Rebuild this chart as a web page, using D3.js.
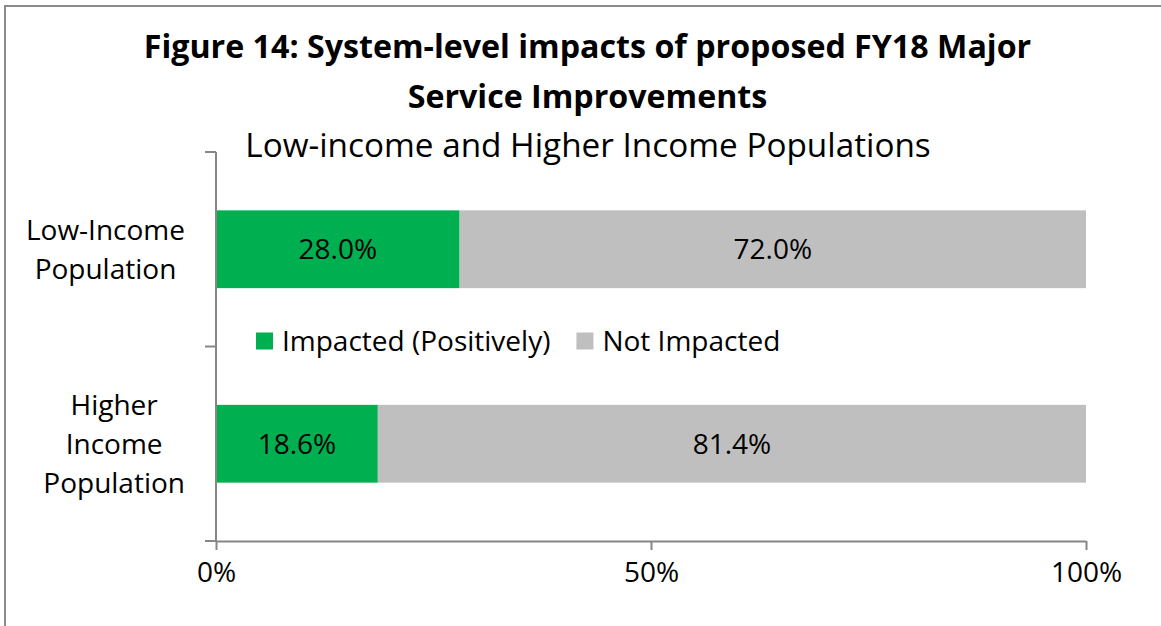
<!DOCTYPE html>
<html>
<head>
<meta charset="utf-8">
<script src="https://cdn.jsdelivr.net/npm/d3@7"></script>
<style>
  body { margin: 0; background: #fff; }
  svg { display: block; }
  text { font-family: "Open Sans", "Noto Sans", sans-serif; fill: #000; }
</style>
</head>
<body>
<svg id="chart" width="1161" height="626"></svg>
<script>
// Chart data
const categories = ["Low-Income Population", "Higher Income Population"];
const categoryLines = [["Low-Income", "Population"], ["Higher", "Income", "Population"]];
const seriesNames = ["Impacted (Positively)", "Not Impacted"];
const impacted = [28.0, 18.6];
const notImpacted = [72.0, 81.4];
const xTicks = [0, 50, 100];
const seriesColors = ["#00B050", "#BFBFBF"];
const titleLines = ["Figure 14: System-level impacts of proposed FY18 Major", "Service Improvements"];
const subtitle = "Low-income and Higher Income Populations";

const svg = d3.select("#chart");
const W = 1161, H = 626;
const plot = { left: 216, right: 1086, top: 152, bottom: 541 };
const axisColor = "#868686";
const bodySize = 28;

// Outer frame
svg.append("rect")
  .attr("x", 5).attr("y", 6)
  .attr("width", W + 20).attr("height", H + 20)
  .attr("fill", "none").attr("stroke", "#8a8a8a").attr("stroke-width", 2);

// Titles
const title = svg.append("text")
  .attr("text-anchor", "middle")
  .attr("font-weight", "bold")
  .attr("font-size", 32.2);
title.selectAll("tspan").data(titleLines).join("tspan")
  .attr("x", 587.5)
  .attr("y", (d, i) => 58 + i * 50)
  .text(d => d);

svg.append("text")
  .attr("x", 588).attr("y", 157)
  .attr("text-anchor", "middle")
  .attr("font-size", 33.3)
  .text(subtitle);

// Scales
const rows = categories.map((c, i) => ({ category: c, [seriesNames[0]]: impacted[i], [seriesNames[1]]: notImpacted[i] }));
const stacked = d3.stack().keys(seriesNames)(rows);

const x = d3.scaleLinear().domain([0, 100]).range([plot.left, plot.right]);
const y = d3.scaleBand().domain(categories).range([plot.top, plot.bottom])
  .paddingInner(0.6).paddingOuter(0.3);
const color = d3.scaleOrdinal().domain(seriesNames).range(seriesColors);

// Bars
const layers = svg.append("g").selectAll("g").data(stacked).join("g")
  .attr("fill", d => color(d.key));
layers.selectAll("rect").data(d => d).join("rect")
  .attr("x", d => x(d[0]))
  .attr("y", d => y(d.data.category))
  .attr("width", d => x(d[1]) - x(d[0]))
  .attr("height", y.bandwidth());

// Value labels inside the segments
const labels = svg.append("g");
stacked.forEach(layer => {
  layer.forEach(d => {
    labels.append("text")
      .attr("x", (x(d[0]) + x(d[1])) / 2)
      .attr("y", y(d.data.category) + y.bandwidth() / 2)
      .attr("dy", "0.35em")
      .attr("text-anchor", "middle")
      .attr("font-size", bodySize)
      .text((d[1] - d[0]).toFixed(1) + "%");
  });
});

// X axis
const xAxis = svg.append("g").attr("transform", `translate(0,${plot.bottom})`)
  .call(d3.axisBottom(x).tickValues(xTicks).tickSize(9).tickSizeOuter(0).tickPadding(12)
    .tickFormat(d => d + "%"));
xAxis.select(".domain").attr("stroke", axisColor).attr("stroke-width", 2);
xAxis.selectAll(".tick line").attr("stroke", axisColor).attr("stroke-width", 2);
xAxis.selectAll(".tick text").attr("font-size", bodySize).attr("font-family", null).attr("fill", "#000");

// Y axis: ticks at category boundaries
const bounds = [plot.top, ...categories.map((c, i) => i < categories.length - 1 ? (y(c) + y.bandwidth() + y(categories[i + 1])) / 2 : null).filter(v => v !== null), plot.bottom];
const yAxis = svg.append("g");
yAxis.append("line")
  .attr("x1", plot.left).attr("x2", plot.left)
  .attr("y1", plot.top).attr("y2", plot.bottom)
  .attr("stroke", axisColor).attr("stroke-width", 2);
yAxis.selectAll("line.tick").data(bounds).join("line")
  .attr("class", "tick")
  .attr("x1", plot.left - 11).attr("x2", plot.left)
  .attr("y1", d => d).attr("y2", d => d)
  .attr("stroke", axisColor).attr("stroke-width", 2);

// Category labels (wrapped, block right-aligned, lines centred)
const catG = svg.append("g");
categories.forEach((c, i) => {
  const lines = categoryLines[i];
  const t = catG.append("text").attr("text-anchor", "middle").attr("font-size", bodySize);
  const cy = y(c) + y.bandwidth() / 2;
  const lh = 39;
  const spans = t.selectAll("tspan").data(lines).join("tspan")
    .attr("y", (d, j) => cy + (j - (lines.length - 1) / 2) * lh)
    .attr("dy", "0.35em")
    .text(d => d);
  let maxW = 0;
  spans.each(function () { maxW = Math.max(maxW, this.getComputedTextLength()); });
  spans.attr("x", 185 - maxW / 2);
});

// Legend
const legend = svg.append("g").attr("transform", "translate(256,341)");
let lx = 0;
seriesNames.forEach(name => {
  const item = legend.append("g").attr("transform", `translate(${lx},0)`);
  item.append("rect").attr("x", 0).attr("y", -8.5).attr("width", 17).attr("height", 17).attr("fill", color(name));
  const t = item.append("text").attr("x", 26).attr("dy", "0.35em").attr("font-size", bodySize).text(name);
  lx += 26 + t.node().getComputedTextLength() + 26;
});
</script>
</body>
</html>
